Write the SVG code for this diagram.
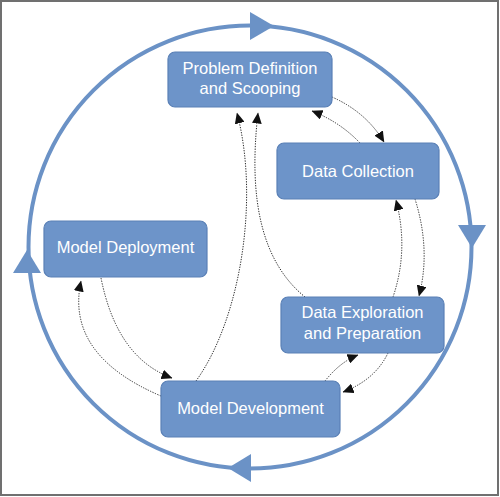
<svg xmlns="http://www.w3.org/2000/svg" width="500" height="497" viewBox="0 0 500 497">
<style>
.box{fill:#6d94c9;stroke:#5a80b6;stroke-width:1.2}
.lbl{fill:#ffffff;font-family:"Liberation Sans",Arial,sans-serif;font-size:16.5px;text-anchor:middle}
.cyc{fill:none;stroke:#6b92c6;stroke-width:4}
.tri{fill:#6b92c6}
.con{fill:none;stroke:#2a2a2a;stroke-width:1;stroke-dasharray:1.3 1.3;marker-end:url(#ah)}
</style>
<defs>
<marker id="ah" viewBox="0 0 10 9" refX="9.5" refY="4.5" markerWidth="11" markerHeight="10" markerUnits="userSpaceOnUse" orient="auto">
<path d="M0,0 L10,4.5 L0,9 z" fill="#111"/>
</marker>
</defs>
<rect x="0" y="0" width="500" height="497" fill="#ffffff"/>
<rect x="1" y="1" width="497" height="494" fill="none" stroke="#707070" stroke-width="2"/>
<g id="cycle">
<circle class="cyc" cx="250" cy="247" r="221.5"/>
<polygon class="tri" points="250,12 250,40 274,26"/>
<polygon class="tri" points="458,225 486,225 472,248"/>
<polygon class="tri" points="251,454 251,482 228,468"/>
<polygon class="tri" points="13,273 41,273 27,250"/>
</g>
<g id="connectors">
<path class="con" d="M332,97 Q366,112 384,142"/>
<path class="con" d="M360,143 Q340,122 312,111"/>
<path class="con" d="M393,297 Q409,250 396,200"/>
<path class="con" d="M415,199 Q431,250 419,296"/>
<path class="con" d="M325,381 Q340,362 358,355"/>
<path class="con" d="M388,353 Q375,380 343,392"/>
<path class="con" d="M161,396 Q65,355 81,281"/>
<path class="con" d="M101,278 Q117,358 172,378"/>
<path class="con" d="M196,381 C240,320 260,200 237,113"/>
<path class="con" d="M305,297 C262,262 248,200 258,113"/>
</g>
<g id="problem">
<rect class="box" x="168" y="52" width="164" height="55" rx="7"/>
<text class="lbl" x="250" y="74">Problem Definition</text>
<text class="lbl" x="250" y="94">and Scooping</text>
</g>
<g id="collection">
<rect class="box" x="277" y="143" width="162" height="56" rx="7"/>
<text class="lbl" x="358" y="177">Data Collection</text>
</g>
<g id="exploration">
<rect class="box" x="281" y="297" width="163" height="56" rx="7"/>
<text class="lbl" x="362.5" y="318">Data Exploration</text>
<text class="lbl" x="362.5" y="339">and Preparation</text>
</g>
<g id="deployment">
<rect class="box" x="44" y="221" width="163" height="56" rx="7"/>
<text class="lbl" x="125.5" y="253">Model Deployment</text>
</g>
<g id="development">
<rect class="box" x="161" y="381" width="179" height="56" rx="7"/>
<text class="lbl" x="250.5" y="414">Model Development</text>
</g>
</svg>
